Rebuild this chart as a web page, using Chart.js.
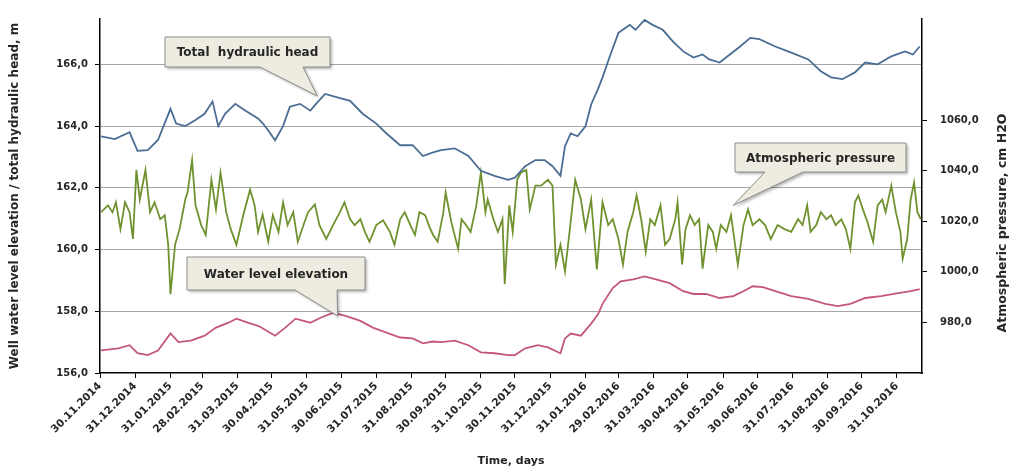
<!DOCTYPE html>
<html><head><meta charset="utf-8">
<script src="https://cdn.jsdelivr.net/npm/chart.js@4.4.1/dist/chart.umd.min.js"></script>
<style>html,body{margin:0;padding:0;background:#fff;}#wrap{width:1015px;height:476px;position:relative;}</style>
</head><body><div id="wrap"><canvas id="c"></canvas></div>
<script>
// x = days since 30.11.2014
const tickDays = [0,31,62,90,121,151,182,212,243,274,304,335,365,396,427,456,487,517,548,578,609,640,670,701];
const tickLabels = ["30.11.2014","31.12.2014","31.01.2015","28.02.2015","31.03.2015","30.04.2015","31.05.2015","30.06.2015","31.07.2015","31.08.2015","30.09.2015","31.10.2015","30.11.2015","31.12.2015","31.01.2016","29.02.2016","31.03.2016","30.04.2016","31.05.2016","30.06.2016","31.07.2016","31.08.2016","30.09.2016","31.10.2016"];
const leftTicks = [156,158,160,162,164,166];
const rightTicks = [980,1000,1020,1040,1060];

const headDays = [1,13,26,33,42,51,62,67,75,84, 92,99,104,110,119,128,139,143,148,154, 161,167,176,185,190,198,208,220,231,243, 252,264,275,284,293,300,312,324,335,347, 359,365,374,383,391,398,405,409,414,420, 427,432,438,442,449,456,462,466,471,479, 486,495,504,513,522,530,536,545,554,563, 572,580,594,608,623,634,643,653,664,673, 684,696,708,715,721];
const headValues = [163.67,163.58,163.8,163.2,163.22,163.55,164.56,164.08,164.0,164.2, 164.4,164.8,164.0,164.4,164.72,164.5,164.25,164.1,163.86,163.54, 164.0,164.63,164.72,164.5,164.72,165.04,164.94,164.82,164.4,164.08, 163.76,163.38,163.38,163.03,163.15,163.22,163.28,163.03,162.55,162.39, 162.26,162.33,162.7,162.9,162.9,162.7,162.39,163.35,163.76,163.67, 163.99,164.7,165.2,165.58,166.32,167.02,167.18,167.28,167.12,167.44, 167.28,167.12,166.74,166.42,166.22,166.32,166.16,166.06,166.32,166.58, 166.86,166.82,166.58,166.38,166.16,165.78,165.58,165.52,165.74,166.06, 166.0,166.26,166.42,166.32,166.58];

const levelDays = [1,16,26,33,42,51,62,69,80,92, 102,113,120,130,139,143,154,163,172,185, 194,205,216,229,240,252,264,275,284,293, 300,312,324,335,347,359,365,374,385,394, 405,409,414,423,432,438,442,451,458,469, 479,489,501,513,522,533,545,557,566,574, 583,594,608,623,638,649,660,673,687,702, 713,721];
const levelValues = [156.73,156.8,156.9,156.64,156.58,156.73,157.28,157.0,157.05,157.21, 157.47,157.63,157.76,157.63,157.53,157.45,157.21,157.47,157.76,157.63, 157.79,157.95,157.85,157.69,157.47,157.31,157.15,157.12,156.96,157.02, 157.0,157.05,156.9,156.67,156.64,156.58,156.58,156.8,156.9,156.83, 156.64,157.12,157.28,157.21,157.6,157.9,158.24,158.75,158.97,159.03, 159.13,159.03,158.91,158.65,158.56,158.56,158.43,158.49,158.65,158.81, 158.78,158.65,158.49,158.4,158.24,158.17,158.24,158.43,158.49,158.59, 158.65,158.72];

const pressureDays = [1,7,11,14,18,22,26,29,32,35, 40,44,48,53,57,60,62,66,70,75, 77,81,84,89,93,98,102,106,111,115, 120,126,132,136,139,143,148,152,157,161, 165,170,174,179,183,189,193,199,205,211, 215,220,224,229,233,237,243,249,255,259, 264,268,273,277,281,286,290,293,297,302, 304,309,315,318,322,326,331,335,339,341, 346,350,354,356,360,363,367,370,375,378, 383,388,394,398,401,405,409,413,418,423, 427,432,437,442,447,451,456,460,464,469, 472,476,480,484,488,493,497,501,506,508, 512,515,519,523,527,530,535,539,542,546, 551,555,561,566,570,574,580,585,590,596, 602,608,614,618,622,625,630,634,639,643, 647,652,656,660,664,667,671,675,680,684, 688,691,696,700,704,706,710,713,716,719, 722];
const pressureValues = [1023.6,1026.3,1023.6,1027.5,1016.9,1027.5,1023.6,1013,1040.3,1028.6, 1040.3,1023.6,1027.5,1020.8,1022.4,1010.7,991.2,1010.7,1016.9,1028.6, 1031.4,1044.2,1026.3,1018.5,1014.6,1036.4,1024.7,1039.2,1023.6,1016.9, 1010.7,1022.4,1032.5,1026.3,1015.8,1022.7,1011.9,1022.4,1015.8,1027.5, 1018.5,1023.6,1011.9,1018.5,1023.6,1026.7,1018.5,1013,1018.5,1023.6, 1027.5,1020.8,1018.5,1020.8,1015.8,1011.9,1018.5,1020.4,1015.8,1010.7, 1020.8,1023.6,1018.5,1014.6,1023.6,1022.4,1017.5,1014.6,1011.9,1023.6, 1031.4,1019.7,1009.1,1020.8,1018.5,1015.8,1026.3,1039.2,1023.6,1028.6, 1020.8,1015.8,1020.8,995.1,1026.3,1015.8,1036.4,1039.2,1040.3,1024.7, 1034.1,1034.1,1036.4,1034.1,1002.9,1010.7,1000.2,1015.8,1036.4,1028.6, 1016.9,1028.6,1001,1027.5,1018.5,1020.8,1013,1002.9,1015.8,1023.6, 1030.2,1020.8,1008,1020.8,1018.5,1026.3,1010.7,1013,1020.8,1027.5, 1002.9,1016.9,1022.4,1018.5,1020.8,1001.3,1018.5,1015.8,1009.1,1018.5, 1015.8,1022.4,1002.9,1018.5,1024.7,1018.5,1020.8,1018.5,1013,1018.5, 1016.9,1015.8,1020.8,1018.5,1026.3,1015.8,1018.5,1023.6,1020.8,1022.4, 1018.5,1020.8,1016.9,1009.1,1027.5,1030.2,1024.7,1019.7,1011.9,1026.3, 1028.6,1023.6,1034.1,1023.6,1015.8,1005.2,1013,1028.6,1035.3,1023.6, 1020.8];

const seriesNames = ["Total  hydraulic head","Water level elevation","Atmospheric pressure"];

const FONT = '"DejaVu Sans", sans-serif';
const TXT = '#262626';
const pts = (d, v) => d.map((x, i) => ({x: x, y: v[i]}));

const calloutPlugin = {
  id: 'callouts',
  afterDatasetsDraw(chart) {
    const ctx = chart.ctx;
    const sx = chart.scales.x, sy = chart.scales.y, sy1 = chart.scales.y1;
    function callout(box, wa, wb, tip, text) {
      ctx.save();
      ctx.beginPath();
      ctx.moveTo(box[0], box[1]);
      ctx.lineTo(box[2], box[1]);
      ctx.lineTo(box[2], box[3]);
      ctx.lineTo(wb, box[3]);
      ctx.lineTo(tip[0], tip[1]);
      ctx.lineTo(wa, box[3]);
      ctx.lineTo(box[0], box[3]);
      ctx.closePath();
      ctx.shadowColor = 'rgba(0,0,0,0.3)';
      ctx.shadowOffsetX = 2; ctx.shadowOffsetY = 2; ctx.shadowBlur = 3;
      ctx.fillStyle = '#eeece1';
      ctx.fill();
      ctx.shadowColor = 'rgba(0,0,0,0)';
      ctx.strokeStyle = '#8c8c8c';
      ctx.lineWidth = 1;
      ctx.stroke();
      ctx.fillStyle = TXT;
      ctx.font = 'bold 12px ' + FONT;
      ctx.textAlign = 'center';
      ctx.textBaseline = 'middle';
      ctx.fillText(text, (box[0] + box[2]) / 2, (box[1] + box[3]) / 2 + 1);
      ctx.restore();
    }
    callout([165, 37, 330, 67], 260, 303, [sx.getPixelForValue(191), sy.getPixelForValue(164.98)], seriesNames[0]);
    callout([187, 257, 365, 290], 295, 337, [sx.getPixelForValue(209), sy.getPixelForValue(157.85)], seriesNames[1]);
    callout([735, 143, 906, 172], 765, 803, [sx.getPixelForValue(557), sy1.getPixelForValue(1026.3)], seriesNames[2]);
    // right axis title (reads bottom-to-top)
    ctx.save();
    ctx.translate(1003, 223);
    ctx.rotate(-Math.PI / 2);
    ctx.fillStyle = TXT;
    ctx.font = 'bold 12.5px ' + FONT;
    ctx.textAlign = 'center';
    ctx.textBaseline = 'middle';
    ctx.fillText('Atmospheric pressure, cm H2O', 0, 0);
    ctx.restore();
  }
};

new Chart(document.getElementById('c'), {
  type: 'line',
  data: {
    datasets: [
      {label: seriesNames[0], data: pts(headDays, headValues), yAxisID: 'y', borderColor: '#4a6d94', borderWidth: 1.8, pointRadius: 0, tension: 0},
      {label: seriesNames[2], data: pts(pressureDays, pressureValues), yAxisID: 'y1', borderColor: '#6f922f', borderWidth: 1.8, pointRadius: 0, tension: 0},
      {label: seriesNames[1], data: pts(levelDays, levelValues), yAxisID: 'y', borderColor: '#c4587a', borderWidth: 1.8, pointRadius: 0, tension: 0}
    ]
  },
  options: {
    responsive: true, maintainAspectRatio: false, animation: false, devicePixelRatio: 1,
    layout: {padding: {top: 14, left: 0, right: 0, bottom: 0}},
    plugins: {legend: {display: false}, tooltip: {enabled: false}},
    scales: {
      x: {
        type: 'linear', position: 'bottom', min: 0, max: 723,
        afterBuildTicks: s => { s.ticks = tickDays.map(v => ({value: v})); },
        afterFit: s => { s.height = 103; },
        ticks: {autoSkip: false, maxRotation: 45, minRotation: 45, color: TXT, padding: 2,
          font: {family: FONT, size: 10.5, weight: 'bold'},
          callback: (v, i) => tickLabels[i]},
        grid: {drawOnChartArea: false, drawTicks: true, tickLength: 5, color: '#000', lineWidth: 1},
        border: {color: '#000', width: 1.5},
        title: {display: true, text: 'Time, days', color: TXT, font: {family: FONT, size: 11, weight: 'bold'}, padding: {top: 4, bottom: 8}}
      },
      y: {
        type: 'linear', position: 'left', min: 156, max: 167.47,
        afterBuildTicks: s => { s.ticks = leftTicks.map(v => ({value: v})); },
        afterFit: s => { s.width = 100; },
        ticks: {color: TXT, padding: 7, font: {family: FONT, size: 10, weight: 'bold'},
          callback: v => v.toFixed(1).replace('.', ',')},
        grid: {color: c => (c.tick && c.tick.value === 156) ? 'rgba(0,0,0,0)' : '#a6a6a6', lineWidth: 1, tickLength: 5, tickColor: '#000'},
        border: {color: '#000', width: 1.5},
        title: {display: true, text: 'Well water level elevation / total hydraulic head, m', color: TXT, font: {family: FONT, size: 12, weight: 'bold'}, padding: {top: 8, bottom: 4}}
      },
      y1: {
        type: 'linear', position: 'right', min: 960, max: 1100,
        afterBuildTicks: s => { s.ticks = rightTicks.map(v => ({value: v})); },
        afterFit: s => { s.width = 93; },
        ticks: {color: TXT, padding: 13, font: {family: FONT, size: 10, weight: 'bold'},
          callback: v => v.toFixed(1).replace('.', ',')},
        grid: {drawOnChartArea: false, tickLength: 5, color: '#000'},
        border: {color: '#000', width: 1.5}
      }
    }
  },
  plugins: [calloutPlugin]
});
</script></body></html>
